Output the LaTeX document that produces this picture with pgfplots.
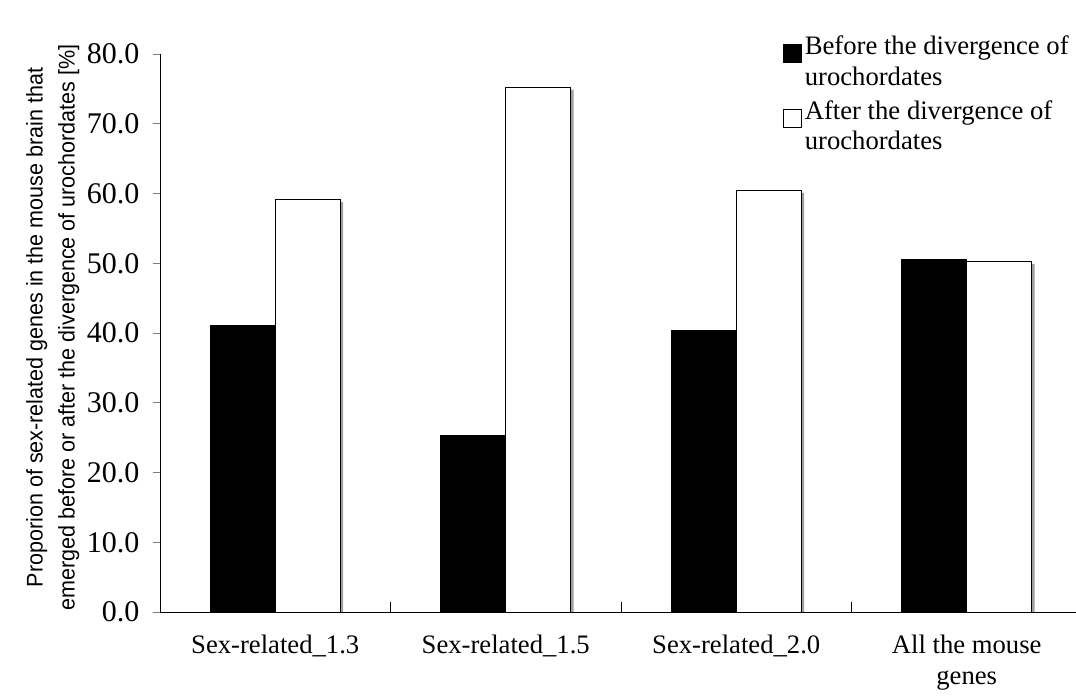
\documentclass[border=0pt]{standalone}
\usepackage{fontspec}
\setmainfont{Liberation Serif}
\newfontfamily\labelfont{Liberation Sans}[FakeStretch=0.95]
\usepackage{pgfplots}
\pgfplotsset{compat=1.18}
\begin{document}
\begin{tikzpicture}
\begin{axis}[
  scale only axis, width=687pt, height=418.5pt,
  xmin=-0.5, xmax=3.474, ymin=0, ymax=80,
  axis x line*=bottom, axis y line*=left,
  axis line style={line width=0.6pt},
  bar width=0.282,
  xtick={0,1,2,3},
  xticklabels={Sex-related\_1.3, Sex-related\_1.5, Sex-related\_2.0, All the mouse\\genes},
  xticklabel style={font=\fontsize{20}{23}\selectfont, align=center, yshift=-14pt},
  xtick style={draw=none},
  extra x ticks={-0.5,0.5,1.5,2.5},
  extra x tick labels={},
  extra x tick style={xtick style={draw=black, line width=0.6pt}, major tick length=7.5pt, tick align=inside},
  ytick={0,10,...,80},
  ytick align=outside, major tick length=5pt,
  ytick style={line width=0.6pt},
  yticklabel style={font=\fontsize{22.5}{24}\selectfont, xshift=-7pt},
  /pgf/number format/.cd, fixed, fixed zerofill, precision=1, assume math mode=true,
  /pgfplots/.cd,
  ylabel={Proporion of sex-related genes in the mouse brain that\\emerged before or after the divergence of urochordates [\%]},
  ylabel style={font=\labelfont\fontsize{17}{24}\selectfont, align=center, at={(axis description cs:-0.117,0.51)}, anchor=center},
  legend style={draw=none, fill=none, at={(0.676,1.043)}, anchor=north west,
    font=\fontsize{20}{23}\selectfont, nodes={align=left, inner xsep=2pt}, row sep=6pt},
  legend cell align=left,
  legend image code/.code={\draw[#1, line width=0.5pt] (0pt,-1pt) rectangle (13.5pt,12.5pt);},
]
\addplot[ybar, bar shift=-0.141, fill=black, draw=black] coordinates {(0,41.1) (1,25.3) (2,40.4) (3,50.5)};
\addlegendentry{Before the divergence of\\urochordates}
\addplot[ybar, bar shift=0.153, fill=gray!75, draw=none, forget plot] coordinates {(0,58.8) (1,74.9) (2,60.1) (3,49.9)};
\addplot[ybar, bar shift=0.141, fill=white, draw=black, line width=0.6pt] coordinates {(0,59.1) (1,75.2) (2,60.4) (3,50.2)};
\addlegendentry{After the divergence of\\urochordates}
\end{axis}
\pgfresetboundingbox
\useasboundingbox (-120pt,-66pt) rectangle (687pt,459pt);
\end{tikzpicture}
\end{document}
